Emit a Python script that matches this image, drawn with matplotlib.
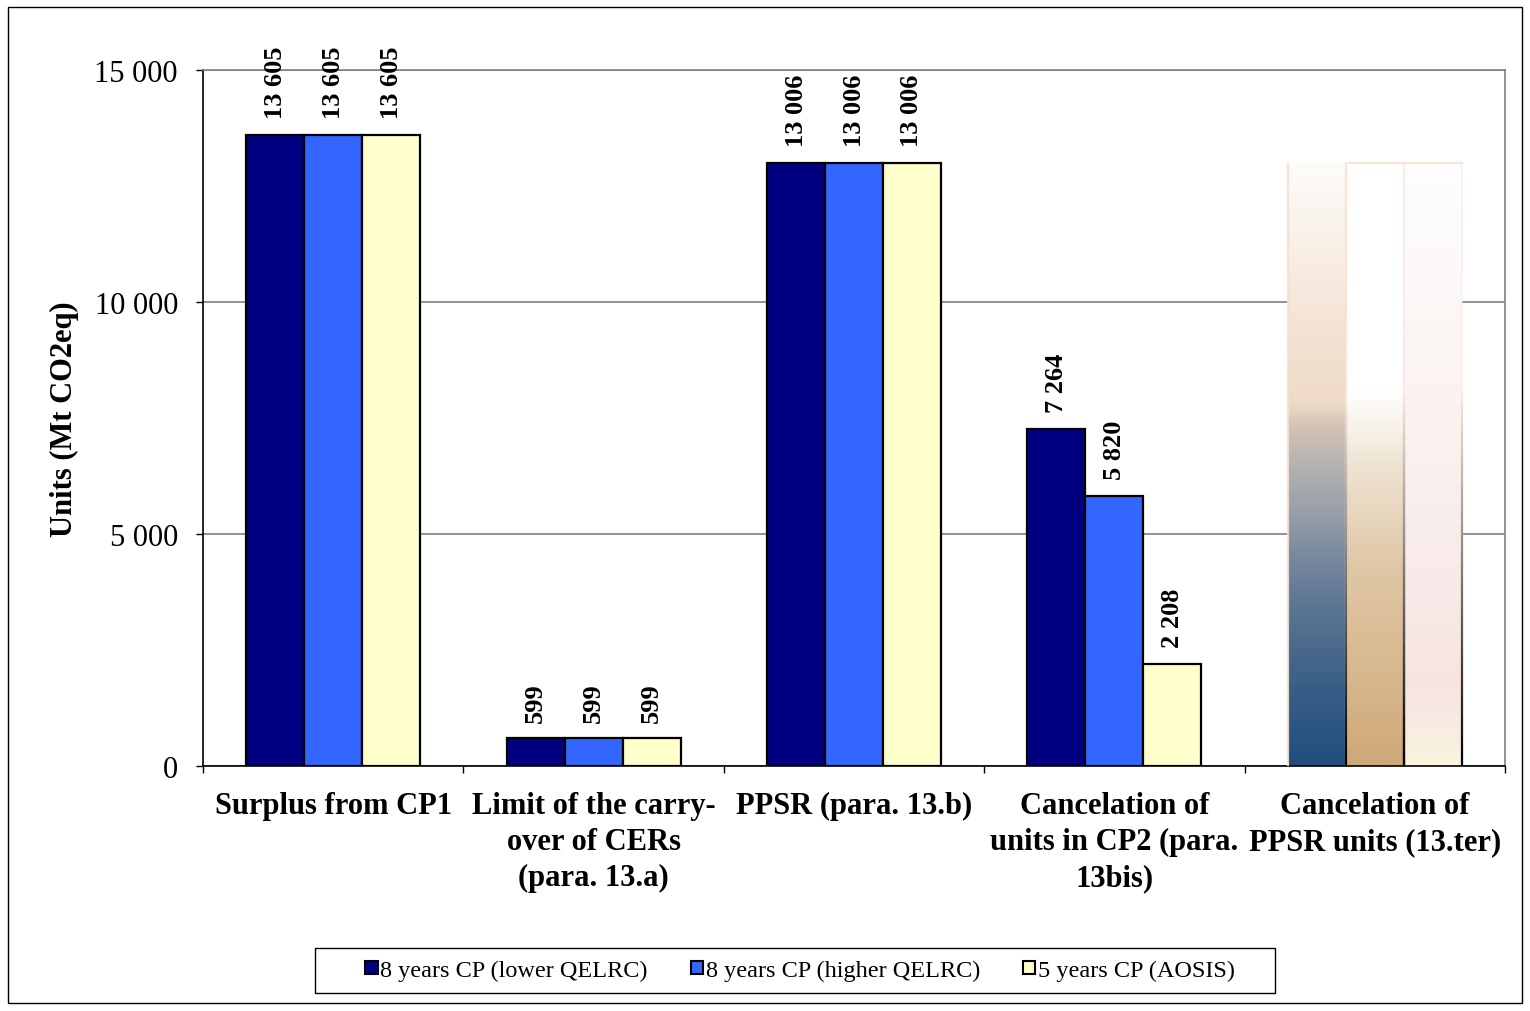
import numpy as np
import matplotlib
matplotlib.use("Agg")
import matplotlib.pyplot as plt
from matplotlib.patches import Rectangle
from matplotlib.colors import to_rgb
from matplotlib.collections import LineCollection
from matplotlib.ticker import FuncFormatter

# ---- data ----
categories = [
    "Surplus from CP1",
    "Limit of the carry-\nover of CERs\n(para. 13.a)",
    "PPSR (para. 13.b)",
    "Cancelation of\nunits in CP2 (para.\n13bis)",
    "Cancelation of\nPPSR units (13.ter)",
]
series_names = ["8 years CP (lower QELRC)", "8 years CP (higher QELRC)", "5 years CP (AOSIS)"]
lower_qelrc = [13605, 599, 13006, 7264, 13006]
higher_qelrc = [13605, 599, 13006, 5820, 13006]
aosis = [13605, 599, 13006, 2208, 13006]
labelled_groups = [True, True, True, True, False]
yticks = [0, 5000, 10000, 15000]

series = [lower_qelrc, higher_qelrc, aosis]
colors = ["#000080", "#3366FF", "#FFFFCC"]

# gradient stops (fraction of bar height from bottom, colour) for the last group
gradients = [
    [(0.0, "#1F4E7E"), (0.13, "#3A5F86"), (0.26, "#5A7592"), (0.35, "#7A8A9E"),
     (0.43, "#9CA2AA"), (0.51, "#B9B5B1"), (0.56, "#D2C2B4"), (0.60, "#EEDAC6"),
     (0.76, "#F5E6D8"), (1.0, "#FEFCFA")],
    [(0.0, "#CFA878"), (0.16, "#D8B98F"), (0.32, "#DFC6A4"), (0.40, "#E6D3BA"),
     (0.49, "#EEE2D0"), (0.57, "#F8F4EC"), (0.62, "#FFFFFF"), (1.0, "#FFFFFF")],
    [(0.0, "#F8F5DC"), (0.06, "#F8ECE2"), (0.13, "#F7E4E0"), (0.30, "#F8EAE8"),
     (0.60, "#FBF3F1"), (1.0, "#FEFEFE")],
]

plt.rcParams["font.family"] = ["Liberation Serif", "DejaVu Serif"]

fig = plt.figure(figsize=(15.3, 10.12), dpi=100)
W, H = 1530, 1012
ax = fig.add_axes([203 / W, 1 - 767 / H, (1505 - 203) / W, (767 - 71) / H])

x = np.arange(len(categories))
bw = 0.2227
offsets = [-bw, 0, bw]

bar_sets = []
for vals, col, off, name in zip(series, colors, offsets, series_names):
    bars = ax.bar(x + off, vals, width=bw, color=col, edgecolor="black",
                  linewidth=1.6, label=name, zorder=3)
    bar_sets.append(bars)

# value labels
for vals, off in zip(series, offsets):
    for i, v in enumerate(vals):
        if not labelled_groups[i]:
            continue
        ax.annotate(f"{v:,}".replace(",", " "), (x[i] + off, v),
                    xytext=(0, 12), textcoords="offset points",
                    rotation=90, ha="center", va="bottom",
                    fontsize=19, fontweight="bold")

# gradient-filled bars for the last group
def grad_image(stops, n=256):
    fr = np.linspace(0, 1, n)
    pos = [s[0] for s in stops]
    rgb = np.array([to_rgb(s[1]) for s in stops])
    img = np.stack([np.interp(fr, pos, rgb[:, c]) for c in range(3)], axis=-1)
    return img[:, None, :]

last = len(categories) - 1
for k, bars in enumerate(bar_sets):
    b = bars[last]
    bx, bwid, bh = b.get_x(), b.get_width(), b.get_height()
    b.set_facecolor("none")
    b.set_edgecolor("none")
    im = ax.imshow(grad_image(gradients[k]), extent=(bx, bx + bwid, 0, bh),
                   origin="lower", aspect="auto", zorder=2.5, interpolation="bilinear")
    im.set_clip_path(b)
    # soft edges: dark at the base fading out towards the top
    n = 60
    ys = np.linspace(0, bh, n + 1)
    segs, cols = [], []
    for j in range(n):
        f = (ys[j] + ys[j + 1]) / 2 / bh
        if k == 0:
            c = (0.96, 0.88, 0.80)
            a = 0.9
        else:
            t = min(f / 0.62, 1.0)
            c = tuple(np.array((0.0, 0.0, 0.0)) * (1 - t) + np.array((0.97, 0.92, 0.88)) * t)
            a = 1.0 if t < 1 else 0.5
        for xe in (bx, bx + bwid):
            segs.append([(xe, ys[j]), (xe, ys[j + 1])])
            cols.append((*c, a))
    ax.add_collection(LineCollection(segs, colors=cols, linewidths=1.6, zorder=3.5))
    if k > 0:
        ax.plot([bx, bx + bwid], [bh, bh], color="#F8E6D8", lw=1.6, zorder=3.5)

# axes styling
ax.set_xlim(-0.5, len(categories) - 0.5)
ax.set_ylim(0, 15000)
ax.set_yticks(yticks)
ax.yaxis.set_major_formatter(FuncFormatter(lambda v, p: f"{int(v):,}".replace(",", " ")))
ax.tick_params(axis="y", direction="out", length=5, width=1, pad=13, labelsize=22)
ax.yaxis.grid(True, color="#808080", linewidth=1.2, zorder=0)
ax.set_axisbelow(True)

ax.set_xticks(np.arange(-0.5, len(categories), 1.0))
ax.set_xticklabels([])
ax.tick_params(axis="x", which="major", direction="out", length=5, width=1)
ax.set_xticks(x, minor=True)
ax.set_xticklabels(categories, minor=True, fontsize=22, fontweight="bold",
                   linespacing=1.32)
ax.tick_params(axis="x", which="minor", length=0, pad=18)

for s in ("top", "right"):
    ax.spines[s].set_color("#808080")
    ax.spines[s].set_linewidth(1.2)
for s in ("left", "bottom"):
    ax.spines[s].set_color("black")
    ax.spines[s].set_linewidth(1.2)

ax.set_ylabel("Units (Mt CO2eq)", fontsize=22, fontweight="bold")
ax.yaxis.set_label_coords(-124 / (1505 - 203), 0.5)

# legend with a separate frame
fig.patches.append(Rectangle((315 / W, 1 - 994 / H), 960 / W, 45 / H,
                             transform=fig.transFigure, fill=False,
                             edgecolor="black", linewidth=1.0))
handles = [Rectangle((0, 0), 1, 1, facecolor=c, edgecolor="black", linewidth=1.5) for c in colors]
fig.legend(handles, series_names, loc="center", bbox_to_anchor=(800 / W, 1 - 971.5 / H),
           ncol=3, frameon=False, fontsize=17.5, handlelength=0.5, handleheight=0.5,
           handletextpad=0.12, columnspacing=1.75)

# outer chart border
fig.patches.append(Rectangle((8 / W, 8 / H), (1522 - 8) / W, (1004 - 8) / H,
                             transform=fig.transFigure, fill=False,
                             edgecolor="black", linewidth=1.0))

fig.savefig("out.png", dpi=100)
